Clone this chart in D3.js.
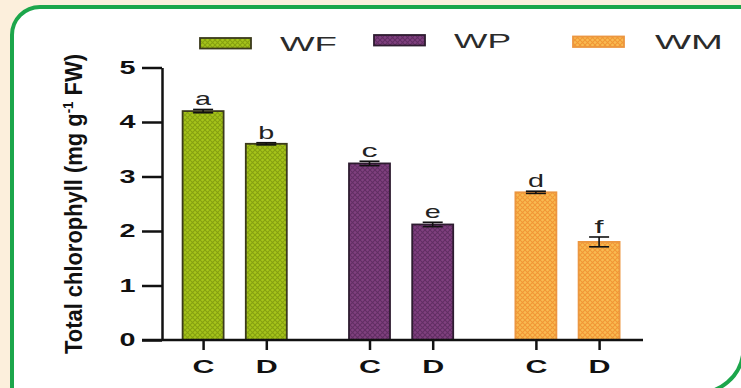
<!DOCTYPE html>
<html>
<head>
<meta charset="utf-8">
<script src="https://cdn.jsdelivr.net/npm/d3@7"></script>
<style>
  html, body { margin: 0; padding: 0; background: #fcefdc; }
  svg { display: block; }
</style>
</head>
<body>
<svg id="chart" width="741" height="388"></svg>
<script>
// ---- data ----
const groups = ["WF", "WP", "WM"];
const treatments = ["C", "D"];
const meanWF = [4.20, 3.60];
const meanWP = [3.24, 2.12];
const meanWM = [2.71, 1.80];
const seWF = [0.03, 0.02];
const seWP = [0.04, 0.04];
const seWM = [0.02, 0.09];
const lettersWF = ["a", "b"];
const lettersWP = ["c", "e"];
const lettersWM = ["d", "f"];
const yTicks = [0, 1, 2, 3, 4, 5];

const means = { WF: meanWF, WP: meanWP, WM: meanWM };
const errs = { WF: seWF, WP: seWP, WM: seWM };
const letters = { WF: lettersWF, WP: lettersWP, WM: lettersWM };

const rows = [];
groups.forEach(g => treatments.forEach((t, i) => {
  rows.push({ group: g, treat: t, key: g + "-" + t, mean: means[g][i], se: errs[g][i], letter: letters[g][i] });
}));

// ---- styles ----
const fills = {
  WF: { base: "#a6c41a", line: "#7f9a0d", edge: "#3b3a1c" },
  WP: { base: "#80407f", line: "#5c2a5e", edge: "#2e1c30" },
  WM: { base: "#f8bb52", line: "#f08f30", edge: "#ec9640" }
};
const FONT = "'Liberation Sans', Arial, sans-serif";
const GREEN = "#1ca64b";

const svg = d3.select("#chart");

// panel: white card with rounded top-left corner, running off the right and bottom
svg.append("path")
  .attr("d", "M12,400 V35 A28,28 0 0 1 40,7 H760 V400 Z")
  .attr("fill", "#ffffff");
svg.append("path")
  .attr("d", "M12,400 V35 A28,28 0 0 1 40,7 H760")
  .attr("fill", "none")
  .attr("stroke", GREEN)
  .attr("stroke-width", 4);
svg.append("path")
  .attr("d", "M690,392 A45,45 0 0 0 743.5,347")
  .attr("fill", "none")
  .attr("stroke", GREEN)
  .attr("stroke-width", 4);

// hatch patterns
const defs = svg.append("defs");
groups.forEach(g => {
  const p = defs.append("pattern")
    .attr("id", "pat-" + g)
    .attr("patternUnits", "userSpaceOnUse")
    .attr("width", 5).attr("height", 5);
  p.append("rect").attr("width", 5).attr("height", 5).attr("fill", fills[g].base);
  p.append("path")
    .attr("d", "M0,0 L5,5 M5,0 L0,5")
    .attr("stroke", fills[g].line)
    .attr("stroke-width", 1.1)
    .attr("opacity", 0.85);
});

// ---- scales ----
const y = d3.scaleLinear().domain([0, 5]).range([340, 67.5]);
const xGroup = d3.scaleBand().domain(groups).range([151.5, 650.7]).padding(0);
const xInner = d3.scalePoint().domain(treatments).range([-31.6, 31.6]);
const cx = d => xGroup(d.group) + xGroup.bandwidth() / 2 + xInner(d.treat);
const barW = 41;

const xKey = d3.scaleOrdinal(rows.map(r => r.key), rows.map(cx));

// ---- y axis ----
const yAxis = svg.append("g")
  .attr("transform", "translate(162,0)")
  .call(d3.axisLeft(y).tickValues(yTicks).tickFormat(d3.format("d"))
    .tickSize(20).tickSizeOuter(0).tickPadding(6.5));
yAxis.select(".domain").attr("stroke", "#111").attr("stroke-width", 2.5);
yAxis.selectAll(".tick line").attr("stroke", "#111").attr("stroke-width", 2.5);
yAxis.selectAll(".tick text")
  .attr("fill", "#111")
  .attr("font-family", FONT)
  .attr("font-weight", "bold")
  .attr("font-size", 18)
  .attr("textLength", 16)
  .attr("lengthAdjust", "spacingAndGlyphs");

// ---- bars ----
svg.append("g").selectAll("rect")
  .data(rows).join("rect")
  .attr("x", d => cx(d) - barW / 2)
  .attr("y", d => y(d.mean))
  .attr("width", barW)
  .attr("height", d => y(0) - y(d.mean))
  .attr("fill", d => "url(#pat-" + d.group + ")")
  .attr("stroke", d => fills[d.group].edge)
  .attr("stroke-width", 1.8);

// ---- x axis ----
svg.append("line")
  .attr("x1", 142).attr("x2", 643)
  .attr("y1", y(0)).attr("y2", y(0))
  .attr("stroke", "#111").attr("stroke-width", 2.5);
const xAxis = svg.append("g")
  .attr("transform", `translate(0,${y(0)})`)
  .call(d3.axisBottom(xKey).tickFormat(k => k.split("-")[1]).tickSize(10).tickPadding(10));
xAxis.select(".domain").remove();
xAxis.selectAll(".tick line").attr("stroke", "#111").attr("stroke-width", 2.5);
xAxis.selectAll(".tick text")
  .attr("fill", "#111")
  .attr("font-family", FONT)
  .attr("font-weight", "bold")
  .attr("font-size", 19)
  .attr("textLength", 22)
  .attr("lengthAdjust", "spacingAndGlyphs");

// ---- error bars ----
const eb = svg.append("g").attr("stroke", "#111").attr("stroke-width", 1.6);
rows.forEach(d => {
  const x0 = cx(d);
  eb.append("line").attr("x1", x0).attr("x2", x0).attr("y1", y(d.mean - d.se)).attr("y2", y(d.mean + d.se));
  eb.append("line").attr("x1", x0 - 10).attr("x2", x0 + 10).attr("y1", y(d.mean + d.se)).attr("y2", y(d.mean + d.se));
  eb.append("line").attr("x1", x0 - 10).attr("x2", x0 + 10).attr("y1", y(d.mean - d.se)).attr("y2", y(d.mean - d.se));
});

// ---- significance letters ----
svg.append("g").selectAll("text")
  .data(rows).join("text")
  .attr("x", cx)
  .attr("y", d => y(d.mean + d.se) - 4)
  .attr("text-anchor", "middle")
  .attr("font-family", FONT)
  .attr("font-size", 19)
  .attr("fill", "#222")
  .attr("textLength", d => d.letter === "f" ? 9 : 16)
  .attr("lengthAdjust", "spacingAndGlyphs")
  .text(d => d.letter);

// ---- y axis title ----
const title = svg.append("text")
  .attr("transform", "translate(82,204) rotate(-90)")
  .attr("text-anchor", "middle")
  .attr("font-family", FONT)
  .attr("font-weight", "bold")
  .attr("font-size", 23)
  .attr("fill", "#111")
  .attr("textLength", 300)
  .attr("lengthAdjust", "spacingAndGlyphs");
title.append("tspan").text("Total chlorophyll (mg g");
title.append("tspan").attr("font-size", 14).attr("dy", -9).text("-1");
title.append("tspan").attr("dy", 9).text(" FW)");

// ---- legend ----
const legendPos = [
  { px: 200, py: 38, tx: 280, ty: 50.5, tl: 57 },
  { px: 374, py: 35, tx: 454, ty: 47.5, tl: 57 },
  { px: 573, py: 36.5, tx: 655, ty: 49, tl: 68 }
];
const legend = svg.append("g");
groups.forEach((g, i) => {
  const p = legendPos[i];
  legend.append("rect")
    .attr("x", p.px).attr("y", p.py)
    .attr("width", 51).attr("height", 10.5)
    .attr("fill", "url(#pat-" + g + ")")
    .attr("stroke", fills[g].edge)
    .attr("stroke-width", 1.8);
  legend.append("text")
    .attr("x", p.tx).attr("y", p.ty)
    .attr("font-family", FONT)
    .attr("font-size", 21)
    .attr("fill", "#2b2b2b")
    .attr("textLength", p.tl)
    .attr("lengthAdjust", "spacingAndGlyphs")
    .text(g);
});
</script>
</body>
</html>
